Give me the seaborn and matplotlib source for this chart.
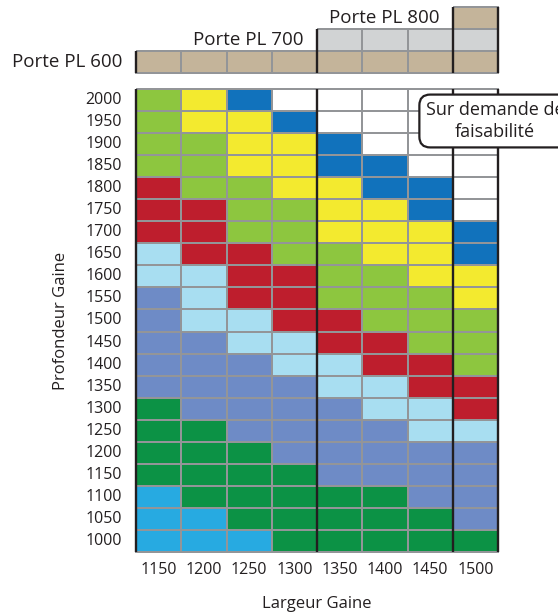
import numpy as np
import pandas as pd
import seaborn as sns
import matplotlib.pyplot as plt
from matplotlib.colors import ListedColormap

sns.set_style('white')
plt.rcParams['font.family'] = ['Open Sans', 'DejaVu Sans']

largeur = [1150, 1200, 1250, 1300, 1350, 1400, 1450, 1500]
profondeur = [2000, 1950, 1900, 1850, 1800, 1750, 1700, 1650, 1600, 1550, 1500,
              1450, 1400, 1350, 1300, 1250, 1200, 1150, 1100, 1050, 1000]

# one string per profondeur, one letter per largeur
grille = [
    'GYBWWWWW',
    'GYYBWWWW',
    'GGYYBWWW',
    'GGYYBBWW',
    'RGGYYBBW',
    'RRGGYYBW',
    'RRGGYYYB',
    'LRRGGYYB',
    'LLRRGGYY',
    'PLRRGGGY',
    'PLLRRGGG',
    'PPLLRRGG',
    'PPPLLRRG',
    'PPPPLLRR',
    'DPPPPLLR',
    'DDPPPPLL',
    'DDDPPPPP',
    'DDDDPPPP',
    'CDDDDDPP',
    'CCDDDDDP',
    'CCCDDDDD',
]

portes = ['Porte PL 800', 'Porte PL 700', 'Porte PL 600']
porte_debut = [1500, 1350, 1150]
porte_teinte = ['T', 'S', 'T']

codes = ['W', 'Y', 'G', 'B', 'R', 'L', 'P', 'D', 'C', 'T', 'S']
couleurs = ['#ffffff', '#f3ea2f', '#8dc63f', '#1172bc', '#be1e2d', '#a8def1',
            '#6e8bc6', '#0c9245', '#27aae1', '#c4b49a', '#d1d3d4']
cmap = ListedColormap(couleurs)
idx = {c: i for i, c in enumerate(codes)}

GRID = '#939598'
DARK = '#231f20'


def main():
    fig = plt.figure(figsize=(5.58, 6.14), dpi=100)
    ax = fig.add_axes([136 / 558, 1 - 552 / 614, 362 / 558, 463 / 614])
    ax_top = fig.add_axes([136 / 558, 1 - 73 / 614, 362 / 558, 66 / 614])

    df = pd.DataFrame([[idx[c] for c in row] for row in grille],
                      index=profondeur, columns=largeur)
    sns.heatmap(df, cmap=cmap, vmin=-0.5, vmax=len(codes) - 0.5, cbar=False,
                linewidths=1.3, linecolor=GRID, ax=ax)
    ax.collections[0].set_clip_on(False)

    top = pd.DataFrame([[idx[t] if l >= d else np.nan for l in largeur]
                        for d, t in zip(porte_debut, porte_teinte)],
                       index=portes, columns=largeur)
    sns.heatmap(top, mask=top.isna(), cmap=cmap, vmin=-0.5,
                vmax=len(codes) - 0.5, cbar=False, linewidths=1.3,
                linecolor=GRID, ax=ax_top)
    mesh = ax_top.collections[0]
    mesh.set_clip_on(False)
    # no grid lines around empty cells
    mesh.set_edgecolor([(0, 0, 0, 0) if np.isnan(v) else GRID
                        for v in top.values.ravel()])
    ax_top.set_xticks([])
    ax_top.set_yticks([])
    ax_top.set_xlabel('')
    ax_top.set_ylabel('')

    # thick separators between door widths
    for x in [0, 4, 7, 8]:
        ax.plot([x, x], [0, len(profondeur)], color=DARK, lw=1.7,
                clip_on=False, solid_capstyle='butt')
    for i, d in enumerate(porte_debut):
        x0 = largeur.index(d)
        ax_top.plot([x0, x0], [i, 3], color=DARK, lw=1.7, clip_on=False,
                    solid_capstyle='butt')
        ax_top.text(x0 - 0.3, i + 0.5, portes[i], ha='right', va='center',
                    fontsize=13.5, color=DARK)
    ax_top.plot([8, 8], [0, 3], color=DARK, lw=1.7, clip_on=False,
                solid_capstyle='butt')

    ax.set_yticklabels(profondeur, rotation=0)
    ax.set_xticklabels(largeur, rotation=0)
    ax.tick_params(axis='y', length=0, pad=10, labelsize=11.5, labelcolor=DARK)
    ax.tick_params(axis='x', length=0, pad=7, labelsize=11.5, labelcolor=DARK)
    ax.set_xlabel('Largeur Gaine', fontsize=12, labelpad=13, color=DARK)
    ax.set_ylabel('Profondeur Gaine', fontsize=12, labelpad=12, color=DARK)

    fig.text(495 / 558, 1 - 121 / 614, 'Sur demande de\nfaisabilité',
             ha='center', va='center', fontsize=13, linespacing=1.3,
             color=DARK,
             bbox=dict(boxstyle='round,pad=0.35,rounding_size=0.6',
                       fc='white', ec=DARK, lw=1.6))

    fig.savefig('out.png', dpi=100, facecolor='white')


if __name__ == '__main__':
    main()
